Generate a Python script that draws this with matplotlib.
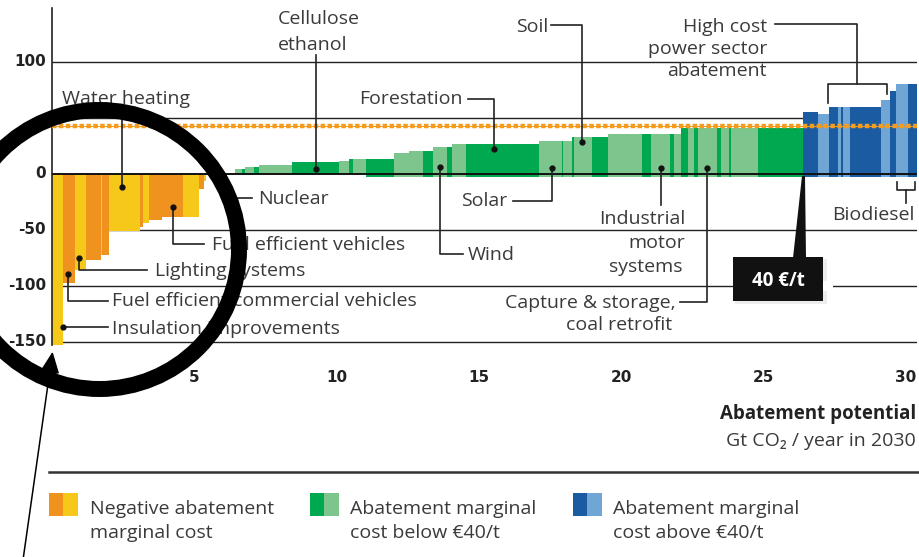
import matplotlib
matplotlib.use("Agg")
import matplotlib.pyplot as plt
from matplotlib.transforms import Affine2D
from matplotlib.patches import Rectangle, Circle, Polygon, FancyArrowPatch
from matplotlib.lines import Line2D
import numpy as np

# ---------------- data ----------------
neg_widths = [0.38, 0.43, 0.39, 0.52, 0.04, 0.26, 1.06, 0.12, 0.20, 0.47, 0.74, 0.57, 0.16, 0.07]
neg_costs = [-153, -97, -86, -77, -72, -72, -50.5, -47, -43.5, -41.5, -38, -38, -13, -6]
neg_shades = ['Y', 'O', 'Y', 'O', 'Y', 'O', 'Y', 'O', 'Y', 'O', 'O', 'Y', 'O', 'Y']

gap_width = 1.02

green_widths = [0.24, 0.12, 0.29, 0.21, 1.14, 1.67, 0.35, 0.14, 0.44,
                0.97, 0.56, 0.49, 0.35, 0.49, 0.15, 0.49, 2.59, 0.79, 0.06, 0.30,
                0.06, 0.65, 0.55, 1.21, 0.29, 0.68, 0.14, 0.24, 0.24, 0.23, 0.12,
                0.70, 0.12, 0.29, 0.06, 0.94, 1.58]
green_costs = [4.2, 4.2, 6, 6, 8, 10.5, 12, 13.4, 13.4,
               13.1, 19, 20.8, 20.8, 24.4, 24.4, 26.5, 26.5, 29.8, 29.8, 29.8,
               33.3, 33.3, 33.3, 35.4, 35.4, 35.4, 35.4, 35.4, 40.8, 40.8, 40.8,
               40.8, 40.8, 40.8, 40.8, 40.8, 40.8]
green_shades = ['L', 'D', 'L', 'D', 'L', 'D', 'L', 'D', 'L',
                'D', 'L', 'L', 'D', 'L', 'D', 'L', 'D', 'L', 'D', 'L',
                'D', 'L', 'D', 'L', 'D', 'L', 'D', 'L', 'D', 'L', 'D',
                'L', 'D', 'L', 'D', 'L', 'D']
green_base = [0] * 9 + [-2.4] * 28

blue_widths = [0.53, 0.41, 0.30, 0.12, 0.06, 0.23, 1.12, 0.29, 0.24, 0.41, 0.30]
blue_costs = [55, 54, 60, 60, 60, 60, 60, 66, 74, 80, 80]
blue_shades = ['D', 'L', 'D', 'L', 'D', 'L', 'D', 'L', 'D', 'L', 'D']
blue_base = [-2.4] * 11

carbon_price_line = 43
y_ticks = [100, 50, 0, -50, -100, -150]
y_tick_labels = ['100', '', '0', '-50', '-100', '-150']   # "50" hidden under the magnifier
x_ticks = [0, 5, 10, 15, 20, 25, 30]

# ---------------- colours ----------------
COL = {'O': '#F0921E', 'Y': '#F5C81A'}
GCOL = {'D': '#00A84F', 'L': '#7CC68D'}
BCOL = {'D': '#1A5BA2', 'L': '#6FA6D6'}
TXT = '#3a3a3a'
LINE = '#222222'

plt.rcParams['font.family'] = ['Open Sans', 'DejaVu Sans']

W, H = 920, 557
fig = plt.figure(figsize=(W / 100, H / 100), dpi=100)
PX = Affine2D().scale(1 / W, -1 / H).translate(0, 1) + fig.transFigure

# axes geometry in pixels
x0p, x1p = 52, 916.7
xmax = 30.38
ytop, ybot = 148, -155
ppu_y = 1.12
ax_top = 174 - ytop * ppu_y
ax_bot = 174 - ybot * ppu_y
ax = fig.add_axes([x0p / W, 1 - ax_bot / H, (x1p - x0p) / W, (ax_bot - ax_top) / H])
ax.set_xlim(0, xmax)
ax.set_ylim(ybot, ytop)
ax.axis('off')

# gridlines (under bars)
for yv in y_ticks:
    if yv != 0:
        ax.axhline(yv, color=LINE, lw=1.0, zorder=1)

# bars
x = 0.0
for w, c, s in zip(neg_widths, neg_costs, neg_shades):
    ax.bar(x, c, width=w, align='edge', color=COL[s], lw=0, zorder=2)
    x += w
x += gap_width
for w, c, s, b in zip(green_widths, green_costs, green_shades, green_base):
    ax.bar(x, c - b, width=w, bottom=b, align='edge', color=GCOL[s], lw=0, zorder=2)
    x += w
for w, c, s, b in zip(blue_widths, blue_costs, blue_shades, blue_base):
    ax.bar(x, c - b, width=w, bottom=b, align='edge', color=BCOL[s], lw=0, zorder=2)
    x += w

# zero line & y axis
ax.axhline(0, color='#111111', lw=1.4, zorder=4)
ax.plot([0, 0], [ybot + 2, ytop], color=LINE, lw=1.2, zorder=4, clip_on=False)

# carbon price dotted line
ax.axhline(carbon_price_line, color='#F39C1E', lw=0.8, zorder=5)
ax.axhline(carbon_price_line, color='#F39C1E', lw=3.2, zorder=5,
           linestyle=(0, (1.0, 0.55)), dash_capstyle='butt')

# tick labels
for yv, lab in zip(y_ticks, y_tick_labels):
    py = 174 - yv * ppu_y
    fig.text(46, py, lab, transform=PX, ha='right', va='center',
             fontsize=11, fontweight='bold', color='#222222', family='DejaVu Sans')
for xv in x_ticks:
    px = x0p + xv * 28.47
    fig.text(px, 377, str(xv), transform=PX, ha='center', va='center',
             fontsize=11, fontweight='bold', color='#222222', family='DejaVu Sans')


def line(pts, lw=1.2, color=LINE, z=6):
    xs, ys = zip(*pts)
    fig.add_artist(Line2D(xs, ys, transform=PX, color=color, lw=lw, zorder=z))


def dot(x, y):
    fig.add_artist(Line2D([x], [y], transform=PX, marker='o', ms=3.5, color='#111111', zorder=7))


def txt(x, y, s, ha='left', fs=14, **kw):
    fig.text(x, y + 6.5, s, transform=PX, ha=ha, va='baseline', fontsize=fs, color=TXT, zorder=6, **kw)


# ---- annotations ----
# Cellulose ethanol
txt(278, 18, 'Cellulose')
txt(278, 44, 'ethanol')
line([(316, 55), (316, 169)]); dot(316, 169)
# Soil
txt(548, 25, 'Soil', ha='right')
line([(551, 25), (582, 25), (582, 142)]); dot(582, 142)
# Forestation
txt(463, 98, 'Forestation', ha='right')
line([(468, 99), (494, 99), (494, 149)]); dot(494, 149)
# High cost power sector abatement
txt(767, 25, 'High cost', ha='right')
txt(767, 47, 'power sector', ha='right')
txt(767, 70, 'abatement', ha='right')
line([(775, 24), (857, 24), (857, 84)])
line([(828, 103), (828, 84), (887, 84), (887, 94)])
# Water heating
txt(62, 97, 'Water heating')
line([(122, 110), (122, 187)]); dot(122, 187)
# Nuclear
txt(258, 198, 'Nuclear')
line([(237, 198), (252, 198)])
# Solar
txt(507, 199, 'Solar', ha='right')
line([(513, 201), (552, 201), (552, 168)]); dot(552, 168)
# Wind
txt(468, 254, 'Wind')
line([(440, 167), (440, 254), (463, 254)]); dot(440, 167)
# Industrial motor systems
txt(685, 217, 'Industrial', ha='right')
txt(685, 241, 'motor', ha='right')
txt(683, 265, 'systems', ha='right')
line([(661, 168), (661, 205)]); dot(661, 168)
# CCS
txt(676, 301, 'Capture & storage,', ha='right')
txt(672, 324, 'coal retrofit', ha='right')
line([(680, 302), (707, 302), (707, 168)]); dot(707, 168)
# Biodiesel
txt(873, 213, 'Biodiesel', ha='center')
line([(897, 182), (897, 190), (915, 190), (915, 182)])
line([(906, 190), (906, 203)])
# Fuel efficient vehicles
txt(212, 244, 'Fuel efficient vehicles')
line([(173, 207), (173, 244), (204, 244)]); dot(173, 207)
# Lighting systems
txt(155, 270, 'Lighting systems')
line([(79, 258), (79, 270), (147, 270)]); dot(79, 258)
# Fuel efficient commercial vehicles
txt(112, 300, 'Fuel efficient commercial vehicles')
line([(68, 274), (68, 301), (108, 301)]); dot(68, 274)
# Insulation improvements
txt(112, 327, 'Insulation improvements')
line([(63, 327), (108, 327)]); dot(63, 327)

# 40 €/t box
fig.add_artist(Rectangle((735, 259), 92, 45, transform=PX, color='#000000', alpha=0.07, lw=0, zorder=7))
fig.add_artist(Rectangle((823, 281), 10, 10, transform=PX, color='white', lw=0, zorder=7))
fig.add_artist(Polygon([(793, 258), (806, 258), (805, 176), (802, 176)], closed=True,
                       transform=PX, color='#111111', lw=0, zorder=8))
fig.add_artist(Rectangle((733, 257), 90, 44, transform=PX, color='#111111', lw=0, zorder=8))
fig.text(778, 281, '40 €/t', transform=PX, ha='center', va='center', fontsize=13.5,
         fontweight='bold', color='white', zorder=9)

# magnifier circle and arrow
fig.add_artist(Circle((99.5, 249.5), 139.5, transform=PX, fill=False, ec='black',
                      lw=11.5, zorder=10))
fig.add_artist(FancyArrowPatch((23, 560), (53, 349), transform=PX,
                               arrowstyle='-|>,head_length=1.2,head_width=0.55',
                               mutation_scale=11, color='black', lw=1.1, zorder=10))

# axis title
fig.text(916, 419, 'Abatement potential', transform=PX, ha='right', va='baseline',
         fontsize=13.5, fontweight='bold', color='#222222')
fig.text(916, 446, 'Gt CO₂ / year in 2030', transform=PX, ha='right', va='baseline',
         fontsize=14, color=TXT)

# separator
line([(49, 472), (920, 472)], lw=1.8, color='#333333')

# legend
legend_items = [
    ((49, 493), (COL['O'], COL['Y']), 90, ['Negative abatement', 'marginal cost']),
    ((310, 493), (GCOL['D'], GCOL['L']), 350, ['Abatement marginal', 'cost below €40/t']),
    ((573, 493), (BCOL['D'], BCOL['L']), 613, ['Abatement marginal', 'cost above €40/t']),
]
for (sx, sy), (c1, c2), tx, lines in legend_items:
    fig.add_artist(Rectangle((sx, sy), 14.5, 23, transform=PX, color=c1, lw=0))
    fig.add_artist(Rectangle((sx + 14.5, sy), 14.5, 23, transform=PX, color=c2, lw=0))
    txt(tx, 507, lines[0])
    txt(tx, 531, lines[1])

fig.savefig('out.png', dpi=100)
